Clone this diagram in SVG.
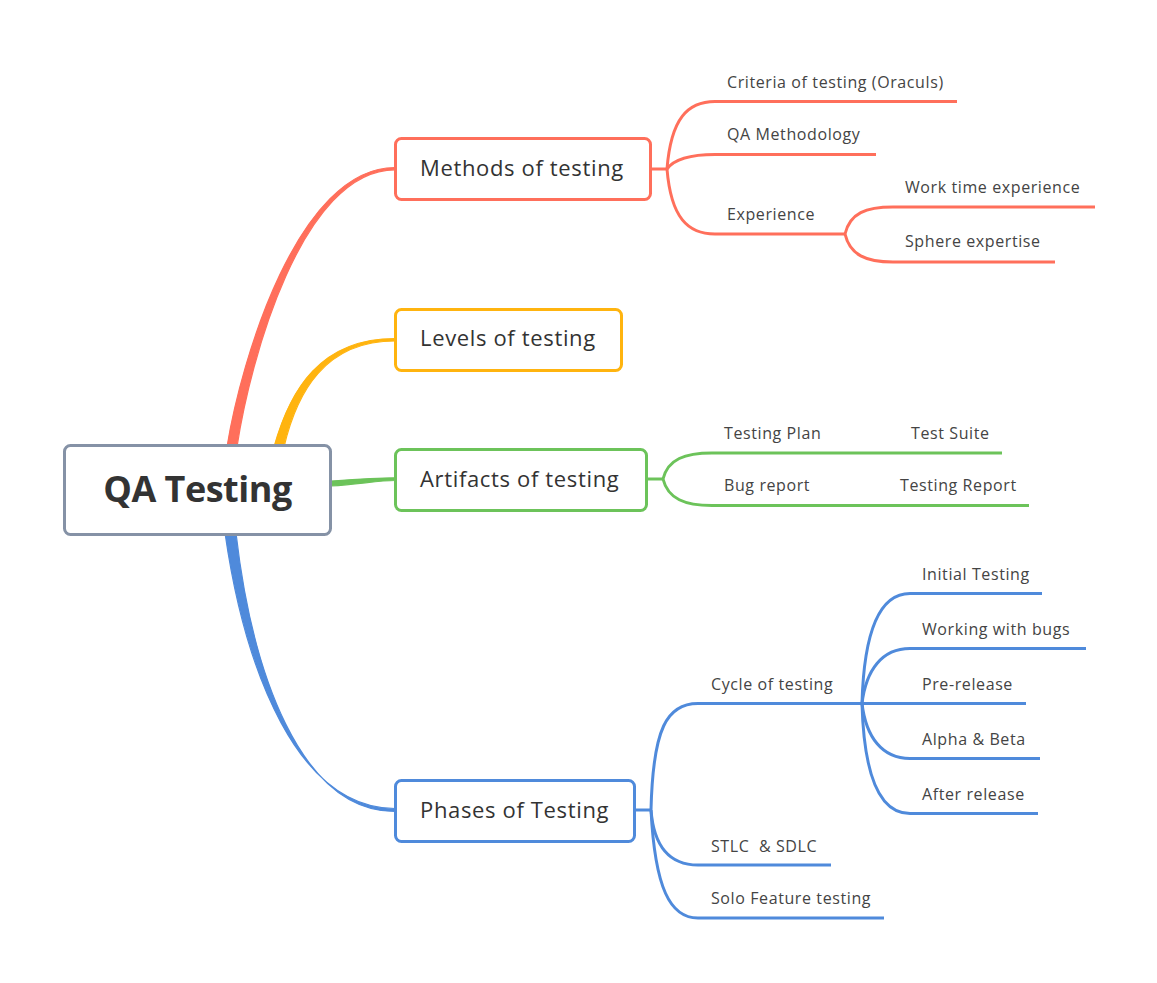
<svg xmlns="http://www.w3.org/2000/svg" width="1157" height="983" viewBox="0 0 1157 983">
<style>
.box{fill:#fff;stroke-width:3}
.main{font-family:"Open Sans","Liberation Sans",sans-serif;font-size:22px;letter-spacing:0.65px;fill:#333}
.leaf{font-family:"Open Sans","Liberation Sans",sans-serif;font-size:16px;letter-spacing:0.6px;fill:#444}
.root{font-family:"Open Sans","Liberation Sans",sans-serif;font-size:36px;font-weight:bold;letter-spacing:-0.5px;fill:#333}
.ln{fill:none;stroke-width:3;stroke-linecap:butt}
.tp{stroke-width:1.2;stroke-linejoin:round}
.r{stroke:#FF6F5B}.o{stroke:#FFB40F}.g{stroke:#6CC35A}.b{stroke:#4F8ADB}
</style>
<rect width="1157" height="983" fill="#fff"/>
<g id="connectors">
  <path class="tp r" d="M 227 447 C 241 360 298 167.5 395 167.5 L 395 169.8 C 302 169.8 250 360 237 447 Z" fill="#FF6F5B"/>
  <path class="tp o" d="M 274 447 C 290 390 320 338.5 395 338.5 L 395 341 C 325 341 297 392 284 447 Z" fill="#FFB40F"/>
  <path class="tp g" d="M 331 481 C 360 479 380 477.8 395 477.8 L 395 480.5 C 380 480.5 360 484 331 486 Z" fill="#6CC35A"/>
  <path class="tp b" d="M 225 533 C 245 672 298 808.5 395 808.5 L 395 811.5 C 300 811.5 252 672 236 533 Z" fill="#4F8ADB"/>
  <!-- methods -->
  <g class="ln r">
    <path d="M 651 169 L 667 169"/>
    <path d="M 667 169 C 671 118 688 101.5 715 101.5 L 957 101.5"/>
    <path d="M 667 169 C 675 158 692 154.5 715 154.5 L 876 154.5"/>
    <path d="M 667 169 C 671 218 688 234 715 234 L 845 234"/>
    <path d="M 845 234 C 850 213 866 207 893 207 L 1095 207"/>
    <path d="M 845 234 C 850 255 866 262 893 262 L 1055 262"/>
  </g>
  <!-- artifacts -->
  <g class="ln g">
    <path d="M 647 479 L 663 479"/>
    <path d="M 663 479 C 668 459 685 453 712 453 L 1002 453"/>
    <path d="M 663 479 C 668 499 685 505.5 712 505.5 L 1029 505.5"/>
  </g>
  <!-- phases -->
  <g class="ln b">
    <path d="M 635 810 L 651 810"/>
    <path d="M 651 810 C 653 728 667 703.5 698 703.5 L 862 703.5"/>
    <path d="M 651 810 C 654 848 670 865 698 865 L 831 865"/>
    <path d="M 651 810 C 655 888 670 918 698 918 L 884 918"/>
    <path d="M 862 703.5 C 864 630 880 593.5 910 593.5 L 1042 593.5"/>
    <path d="M 862 703.5 C 866 670 882 648.5 910 648.5 L 1086 648.5"/>
    <path d="M 862 703.5 L 1026 703.5"/>
    <path d="M 862 703.5 C 866 737 882 758.5 910 758.5 L 1040 758.5"/>
    <path d="M 862 703.5 C 864 777 880 813.5 910 813.5 L 1038 813.5"/>
  </g>
</g>
<g id="node-root">
  <rect x="64.5" y="445.5" width="266" height="89" rx="6" class="box" stroke="#8592A6"/>
  <text x="197.5" y="502" text-anchor="middle" class="root">QA Testing</text>
</g>
<g id="node-methods">
  <rect x="395.5" y="138.5" width="255" height="61" rx="6" class="box" stroke="#FF6F5B"/>
  <text x="420" y="176" class="main">Methods of testing</text>
</g>
<g id="node-levels">
  <rect x="395.5" y="309.5" width="226" height="61" rx="6" class="box" stroke="#FFB40F"/>
  <text x="420" y="346" class="main">Levels of testing</text>
</g>
<g id="node-artifacts">
  <rect x="395.5" y="449.5" width="251" height="61" rx="6" class="box" stroke="#6CC35A"/>
  <text x="420" y="487" class="main">Artifacts of testing</text>
</g>
<g id="node-phases">
  <rect x="395.5" y="780.5" width="239" height="61" rx="6" class="box" stroke="#4F8ADB"/>
  <text x="420" y="818" class="main">Phases of Testing</text>
</g>
<g id="leaf-criteria"><text x="727" y="88" class="leaf">Criteria of testing (Oraculs)</text></g>
<g id="leaf-qa-methodology"><text x="727" y="140" class="leaf">QA Methodology</text></g>
<g id="leaf-experience"><text x="727" y="220" class="leaf">Experience</text></g>
<g id="leaf-work-time"><text x="905" y="193" class="leaf">Work time experience</text></g>
<g id="leaf-sphere"><text x="905" y="247" class="leaf">Sphere expertise</text></g>
<g id="leaf-testing-plan"><text x="724" y="439" class="leaf">Testing Plan</text></g>
<g id="leaf-test-suite"><text x="911" y="439" class="leaf">Test Suite</text></g>
<g id="leaf-bug-report"><text x="724" y="491" class="leaf">Bug report</text></g>
<g id="leaf-testing-report"><text x="900" y="491" class="leaf">Testing Report</text></g>
<g id="leaf-cycle"><text x="711" y="690" class="leaf">Cycle of testing</text></g>
<g id="leaf-stlc"><text x="711" y="852" class="leaf" xml:space="preserve">STLC  &amp; SDLC</text></g>
<g id="leaf-solo"><text x="711" y="904" class="leaf">Solo Feature testing</text></g>
<g id="leaf-initial"><text x="922" y="580" class="leaf">Initial Testing</text></g>
<g id="leaf-working"><text x="922" y="635" class="leaf">Working with bugs</text></g>
<g id="leaf-prerelease"><text x="922" y="690" class="leaf">Pre-release</text></g>
<g id="leaf-alpha"><text x="922" y="745" class="leaf">Alpha &amp; Beta</text></g>
<g id="leaf-after"><text x="922" y="800" class="leaf">After release</text></g>
</svg>
